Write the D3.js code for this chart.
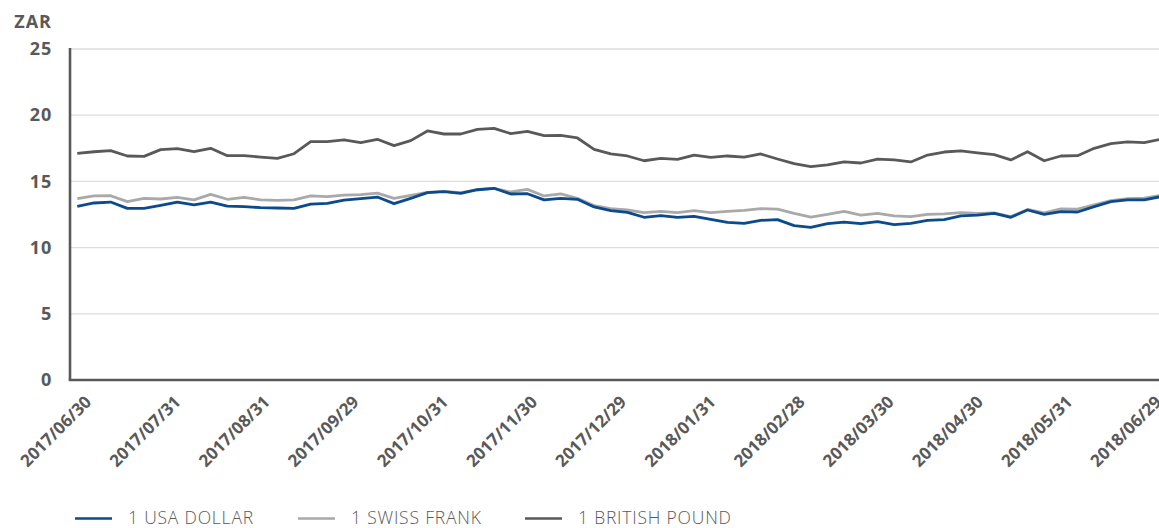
<!DOCTYPE html>
<html>
<head>
<meta charset="utf-8">
<script src="https://cdn.jsdelivr.net/npm/d3@7"></script>
<style>
  html, body { margin: 0; padding: 0; background: #fff; }
  svg { display: block; font-family: "Open Sans", sans-serif; }
</style>
</head>
<body>
<svg id="chart" width="1159" height="528"></svg>
<script>
// ---- data ----
const tickLabels = ["2017/06/30","2017/07/31","2017/08/31","2017/09/29","2017/10/31","2017/11/30",
  "2017/12/29","2018/01/31","2018/02/28","2018/03/30","2018/04/30","2018/05/31","2018/06/29"];
const yTicks = [0, 5, 10, 15, 20, 25];
const seriesNames = ["1 USA DOLLAR", "1 SWISS FRANK", "1 BRITISH POUND"];

const usd = [13.12,13.37,13.44,12.96,12.96,13.19,13.44,13.22,13.44,13.14,13.09,13.02,12.99,12.96,13.29,13.34,
  13.58,13.70,13.82,13.32,13.72,14.15,14.22,14.10,14.37,14.48,14.05,14.07,13.60,13.72,13.65,13.07,
  12.80,12.66,12.29,12.41,12.29,12.36,12.13,11.91,11.83,12.06,12.11,11.66,11.53,11.81,11.93,11.81,
  11.96,11.73,11.83,12.06,12.11,12.39,12.46,12.59,12.29,12.84,12.51,12.71,12.69,13.09,13.47,13.60,13.60,13.85];
const chf = [13.70,13.90,13.92,13.47,13.72,13.67,13.80,13.60,14.02,13.65,13.80,13.60,13.57,13.60,13.90,13.85,
  13.97,14.00,14.12,13.72,13.95,14.17,14.25,14.15,14.37,14.48,14.20,14.40,13.90,14.05,13.72,13.17,
  12.94,12.84,12.64,12.74,12.64,12.79,12.64,12.74,12.81,12.94,12.91,12.59,12.31,12.51,12.74,12.46,
  12.59,12.39,12.34,12.51,12.54,12.64,12.59,12.62,12.34,12.88,12.62,12.92,12.90,13.22,13.55,13.70,13.73,13.95];
const gbp = [17.12,17.24,17.32,16.92,16.89,17.40,17.47,17.24,17.50,16.94,16.94,16.84,16.74,17.09,18.00,18.00,
  18.13,17.93,18.18,17.70,18.08,18.81,18.58,18.58,18.93,19.01,18.61,18.78,18.45,18.48,18.28,17.42,
  17.08,16.92,16.56,16.74,16.67,16.99,16.82,16.92,16.84,17.07,16.69,16.34,16.11,16.24,16.47,16.39,
  16.69,16.62,16.47,16.99,17.22,17.30,17.15,17.02,16.62,17.24,16.56,16.92,16.94,17.50,17.85,17.98,17.93,18.18];

const colors = ["#0b4a8b", "#a9a9a9", "#595959"];
const textColor = "#595959";

// ---- layout ----
const svg = d3.select("#chart");
const plotLeft = 70, plotRight = 1159, plotTop = 49, plotBottom = 380;

const x = d3.scaleLinear().domain([0, usd.length - 1]).range([77.3, 1160.9]);
const y = d3.scaleLinear().domain([0, 25]).range([plotBottom, plotTop]);
const xl = d3.scalePoint().domain(tickLabels).range([92, 1162]);

// gridlines
svg.append("g")
  .selectAll("line")
  .data(yTicks.filter(d => d > 0))
  .join("line")
  .attr("x1", plotLeft).attr("x2", plotRight)
  .attr("y1", d => y(d)).attr("y2", d => y(d))
  .attr("stroke", "#dddddd").attr("stroke-width", 1.3);

// y axis labels
const yAxis = d3.axisLeft(y).tickValues(yTicks).tickSize(0).tickPadding(0);
const gy = svg.append("g").attr("transform", "translate(52,0)").call(yAxis);
gy.select(".domain").remove();
gy.selectAll("text")
  .attr("fill", textColor)
  .style("font-size", "18px")
  .style("font-weight", "700")
  .style("letter-spacing", "0.8px")
  .style("font-family", "'Open Sans', sans-serif");

// unit label
svg.append("text")
  .attr("x", 52).attr("y", 28)
  .attr("text-anchor", "end")
  .attr("fill", textColor)
  .style("font-size", "18px").style("font-weight", "700")
  .style("letter-spacing", "1px")
  .text("ZAR");

// x axis labels
const xAxis = d3.axisBottom(xl).tickSize(0).tickPadding(0);
const gx = svg.append("g").attr("transform", "translate(0,403)").call(xAxis);
gx.select(".domain").remove();
gx.selectAll("text")
  .attr("y", 0).attr("dy", 0)
  .attr("transform", "rotate(-45)")
  .attr("text-anchor", "end")
  .attr("fill", textColor)
  .style("font-size", "17px")
  .style("font-weight", "700")
  .style("font-family", "'Open Sans', sans-serif");

// lines
const line = d3.line().x((d, i) => x(i)).y(d => y(d));
const drawOrder = [[chf, colors[1]], [gbp, colors[2]], [usd, colors[0]]];
svg.append("g")
  .selectAll("path")
  .data(drawOrder)
  .join("path")
  .attr("d", d => line(d[0]))
  .attr("fill", "none")
  .attr("stroke", d => d[1])
  .attr("stroke-width", 2.8)
  .attr("stroke-linejoin", "round");

// axes lines
svg.append("line")
  .attr("x1", plotLeft).attr("x2", plotLeft)
  .attr("y1", plotTop - 1).attr("y2", plotBottom)
  .attr("stroke", textColor).attr("stroke-width", 2.6);
svg.append("line")
  .attr("x1", plotLeft - 1.3).attr("x2", plotRight)
  .attr("y1", plotBottom).attr("y2", plotBottom)
  .attr("stroke", textColor).attr("stroke-width", 2.6);

// legend
const legendX = [75, 298, 525];
const lg = svg.append("g");
seriesNames.forEach((name, i) => {
  lg.append("line")
    .attr("x1", legendX[i]).attr("x2", legendX[i] + 37)
    .attr("y1", 518.5).attr("y2", 518.5)
    .attr("stroke", colors[i]).attr("stroke-width", 2.6);
  lg.append("text")
    .attr("x", legendX[i] + 53).attr("y", 524)
    .attr("fill", textColor)
    .style("font-size", "17.5px")
    .style("font-weight", "300")
    .style("letter-spacing", "0.8px")
    .text(name);
});
</script>
</body>
</html>
